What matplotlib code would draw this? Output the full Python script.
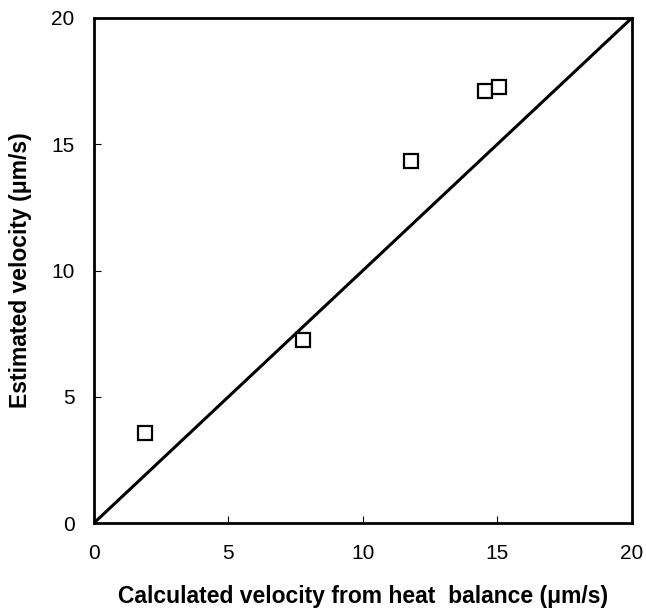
import matplotlib
matplotlib.use("Agg")
import matplotlib.pyplot as plt

plt.rcParams['font.family'] = ['Liberation Sans', 'DejaVu Sans']

# data
calc_vel = [1.9, 7.77, 11.78, 14.53, 15.06]
est_vel = [3.56, 7.25, 14.34, 17.12, 17.28]
ticks = [0, 5, 10, 15, 20]

fig = plt.figure(figsize=(6.46, 6.12), dpi=100)
ax = fig.add_axes([0.1455, 0.1454, 0.8325, 0.8252])

ax.plot([0, 20], [0, 20], color='black', linewidth=2.2)
ax.plot(calc_vel, est_vel, linestyle='none', marker='s', markersize=10.5,
        markerfacecolor='white', markeredgecolor='black', markeredgewidth=1.6)

ax.set_xlim(0, 20)
ax.set_ylim(0, 20)
ax.set_xticks(ticks)
ax.set_yticks(ticks)
ax.tick_params(direction='in', length=5, width=0.8, labelsize=15)
ax.tick_params(axis='x', pad=15)
ax.tick_params(axis='y', pad=14)
for s in ax.spines.values():
    s.set_linewidth(2)

ax.set_xlabel('Calculated velocity from heat  balance (μm/s)', fontsize=16.5,
              fontweight='bold', labelpad=16)
ax.set_ylabel('Estimated velocity (μm/s)', fontsize=16.5, fontweight='bold', labelpad=14)

fig.savefig('out.png', dpi=100)
